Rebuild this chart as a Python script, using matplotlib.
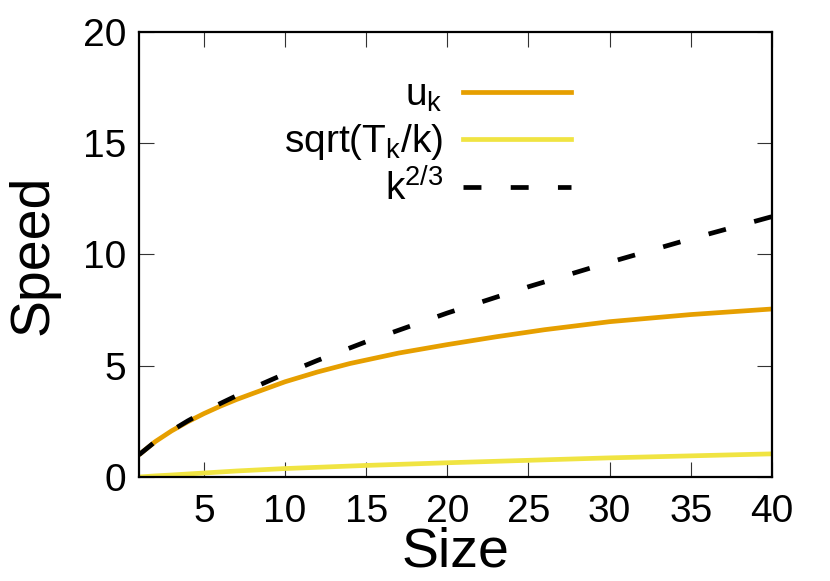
import matplotlib
matplotlib.use("Agg")
import matplotlib.pyplot as plt

plt.rcParams['font.family'] = ['Liberation Sans', 'DejaVu Sans']
plt.rcParams['mathtext.fontset'] = 'custom'
plt.rcParams['mathtext.rm'] = 'Liberation Sans'
plt.rcParams['mathtext.it'] = 'Liberation Sans'

# dane
k_dash = [1, 2, 3, 4, 5, 6, 8, 10, 12, 15, 20, 25, 30, 35, 40]
k23 = [1.0, 1.59, 2.08, 2.52, 2.92, 3.30, 4.0, 4.64, 5.24, 6.08, 7.37, 8.55, 9.65, 10.7, 11.7]

k_u = [1, 2, 3, 4, 5, 6, 7, 8, 10, 12, 14, 17, 20, 23, 26, 30, 35, 40]
u_k = [1.0, 1.59, 2.07, 2.48, 2.85, 3.18, 3.48, 3.75, 4.28, 4.72, 5.1, 5.57, 5.95, 6.3, 6.62, 6.98, 7.3, 7.55]

k_s = [1, 2, 3, 5, 7, 10, 15, 20, 25, 30, 35, 40]
sqrt_T = [0.0, 0.05, 0.09, 0.18, 0.27, 0.38, 0.52, 0.64, 0.75, 0.86, 0.95, 1.04]

xticks = [5, 10, 15, 20, 25, 30, 35, 40]
yticks = [0, 5, 10, 15, 20]

fig = plt.figure(figsize=(8.3, 5.81), dpi=100)
ax = fig.add_axes([0.1675, 0.179, 0.7625, 0.766])

ax.plot(k_u, u_k, color='#E69F00', lw=3.4, label=r'$\mathregular{u_k}$')
ax.plot(k_s, sqrt_T, color='#F0E442', lw=3.4, label=r'$\mathregular{sqrt(T_k/k)}$')
ax.plot(k_dash, k23, color='black', lw=3.4, dashes=(3.8, 6.2), label=r'$\mathregular{k^{2/3}}$')

ax.set_xlim(1, 40)
ax.set_ylim(0, 20)
ax.set_xticks(xticks)
ax.set_yticks(yticks)
ax.tick_params(direction='in', length=11, width=0.8, labelsize=28,
               top=True, right=True, color='#333333')
ax.tick_params(axis='x', pad=12)
ax.tick_params(axis='y', pad=9)
for s in ax.spines.values():
    s.set_linewidth(1.6)

ax.set_xlabel('Size', fontsize=40, labelpad=-2)
ax.set_ylabel('Speed', fontsize=40, labelpad=17)

ax.legend(loc='upper right', bbox_to_anchor=(0.714, 0.94), frameon=False,
          markerfirst=False, fontsize=28, handlelength=2.8,
          handletextpad=0.5, labelspacing=0.2, borderpad=0)

fig.savefig('out.png', dpi=100)
